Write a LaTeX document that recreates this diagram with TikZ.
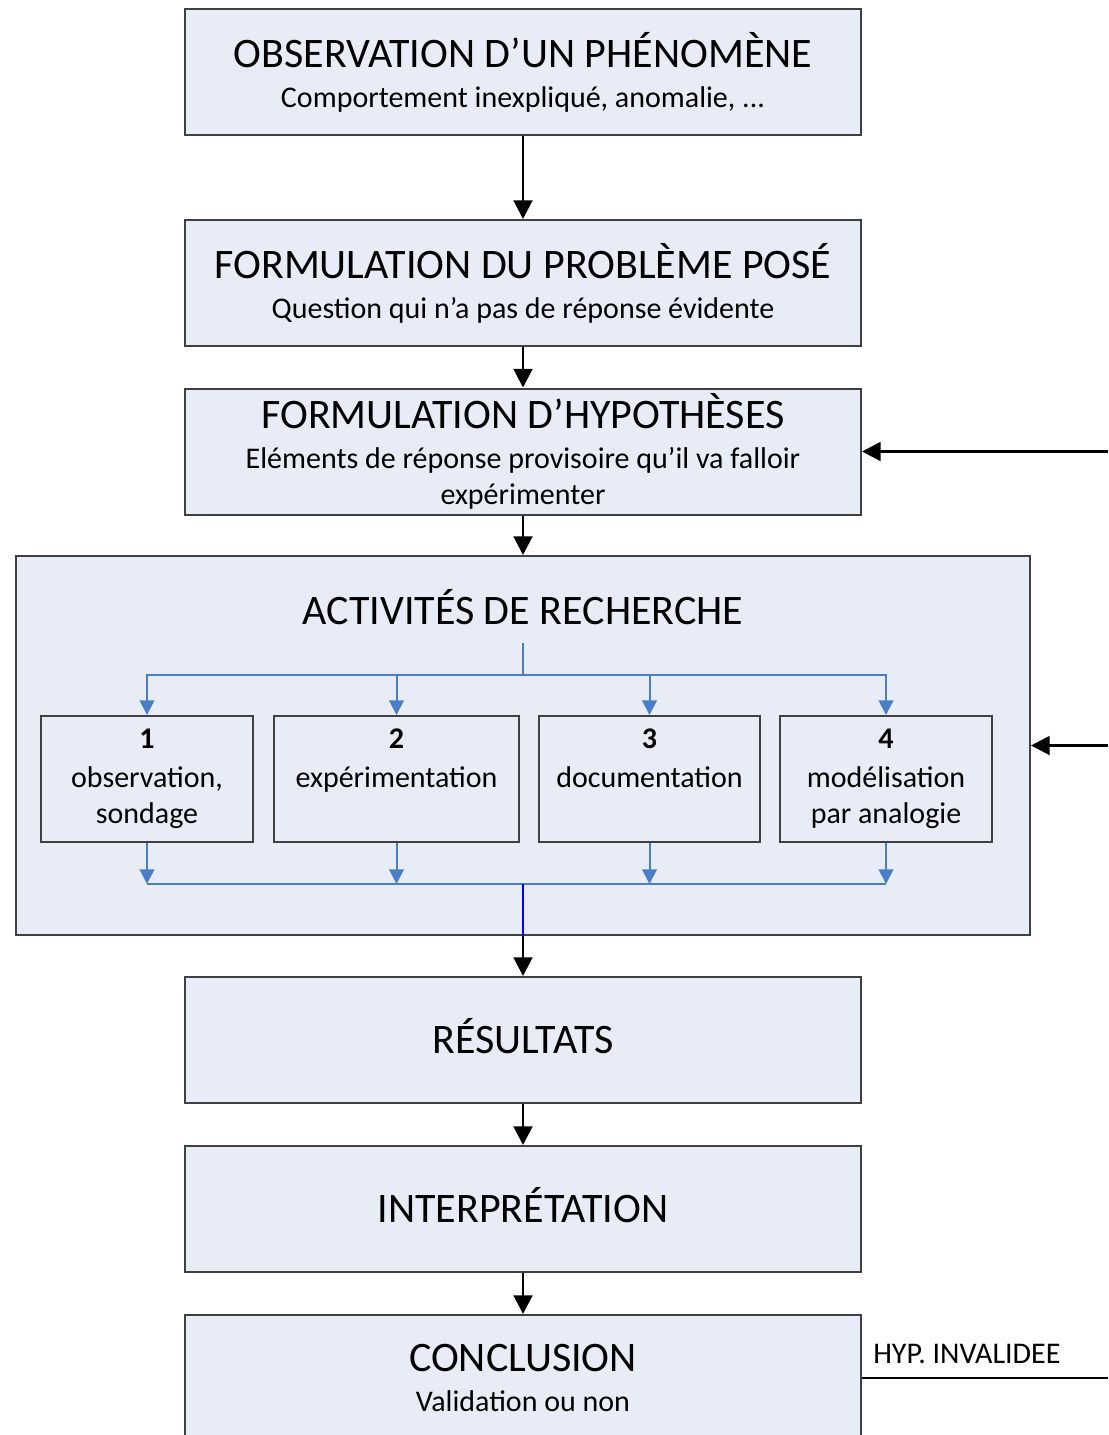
\documentclass[tikz,border=0pt]{standalone}
\usepackage{fontspec}
\setmainfont{Carlito}
\usepackage{tikz}
\usetikzlibrary{arrows.meta}
\usetikzlibrary{positioning}

\definecolor{boxfill}{HTML}{E7ECF7}
\definecolor{boxline}{HTML}{404040}
\definecolor{linkblue}{HTML}{4A7EC9}
\newcommand{\headfont}{\fontsize{31.5}{36}\selectfont}
\newcommand{\subfont}{\fontsize{22.5}{27}\selectfont}

\begin{document}
\begin{tikzpicture}[x=0.75pt, y=-0.75pt,
        stage/.style={rectangle, draw=boxline, line width=1.5pt, fill=boxfill, minimum width=507pt, minimum height=94.5pt, align=center, inner sep=0pt, font=\subfont},
        single/.style={stage, font=\headfont, text height=20pt, text depth=0pt},
        activity/.style={rectangle, draw=boxline, line width=1.5pt, fill=boxfill, minimum height=94.5pt, align=center, inner sep=0pt, font=\subfont},
        flow/.style={-{Triangle[width=14pt,length=14pt]}, line width=2.2pt, black},
        branch/.style={-{Triangle[width=11pt,length=11pt]}, line width=1.5pt, linkblue},
    ]
    \useasboundingbox (0,0) rectangle (1108,1435);
    % main steps
    \node[stage] (obs) at (523,72) {{\headfont OBSERVATION D’UN PHÉNOMÈNE}\\[3pt]Comportement inexpliqué, anomalie, ...};
    \node[stage] (pb) at (523,283) {{\headfont FORMULATION DU PROBLÈME POSÉ}\\[3pt]Question qui n’a pas de réponse évidente};
    \node[stage] (hyp) at (523,451.5) {{\headfont FORMULATION D’HYPOTHÈSES}\\[3pt]Eléments de réponse provisoire qu’il va falloir\\expérimenter};
    % research block
    \node[stage, minimum width=760.5pt, minimum height=284.25pt] (research) at (523,745.5) {};
    \node[font=\headfont] (researchtitle) at (523,607) {ACTIVITÉS DE RECHERCHE};
    \node[activity, minimum width=159pt] (act1) at (147,779) {\textbf{1}\\[2pt]observation,\\sondage};
    \node[activity, minimum width=183.75pt] (act2) at (396.5,779) {\textbf{2}\\[2pt]expérimentation\\\phantom{sondage}};
    \node[activity, minimum width=165.75pt] (act3) at (649.5,779) {\textbf{3}\\[2pt]documentation\\\phantom{sondage}};
    \node[activity, minimum width=159pt] (act4) at (886,779) {\textbf{4}\\[2pt]modélisation\\par analogie};
    \node[single] (res) at (523,1040) {RÉSULTATS};
    \node[single] (interp) at (523,1209) {INTERPRÉTATION};
    \node[stage] (concl) at (523,1378) {{\headfont CONCLUSION}\\[3pt]Validation ou non};
    % links
    \coordinate (split) at (523,643);
    \coordinate (merge) at (523,884);
    \foreach \i in {1,...,4} {
        \draw[branch] (split) -- ++(0,32) -| (act\i.north);
        \draw[branch] (act\i.south) -- (act\i.south |- merge);
    }
    \draw[linkblue, line width=1.5pt] (act1.south |- merge) -- (act4.south |- merge);
    \draw[blue, line width=1pt] (merge) -- (research.south);
    \draw[flow] (obs) -- (pb);
    \draw[flow] (pb) -- (hyp);
    \draw[flow] (hyp) -- (research);
    \draw[flow] (research) -- (res);
    \draw[flow] (res) -- (interp);
    \draw[flow] (interp) -- (concl);
    % loops back
    \coordinate (loopA) at (1108,451.5);
    \coordinate (loopB) at (1108,745.5);
    \coordinate (loopC) at (1108,1378);
    \draw[flow] (loopA) -- (hyp.east);
    \draw[flow] (loopB) -- (research.east);
    \draw[line width=2.2pt] (concl.east) -- node[pos=0, anchor=south west, xshift=4pt, yshift=6pt, font=\fontsize{22.5}{26}\selectfont] (invalid) {HYP. INVALIDEE} (loopC);
\end{tikzpicture}
\end{document}
